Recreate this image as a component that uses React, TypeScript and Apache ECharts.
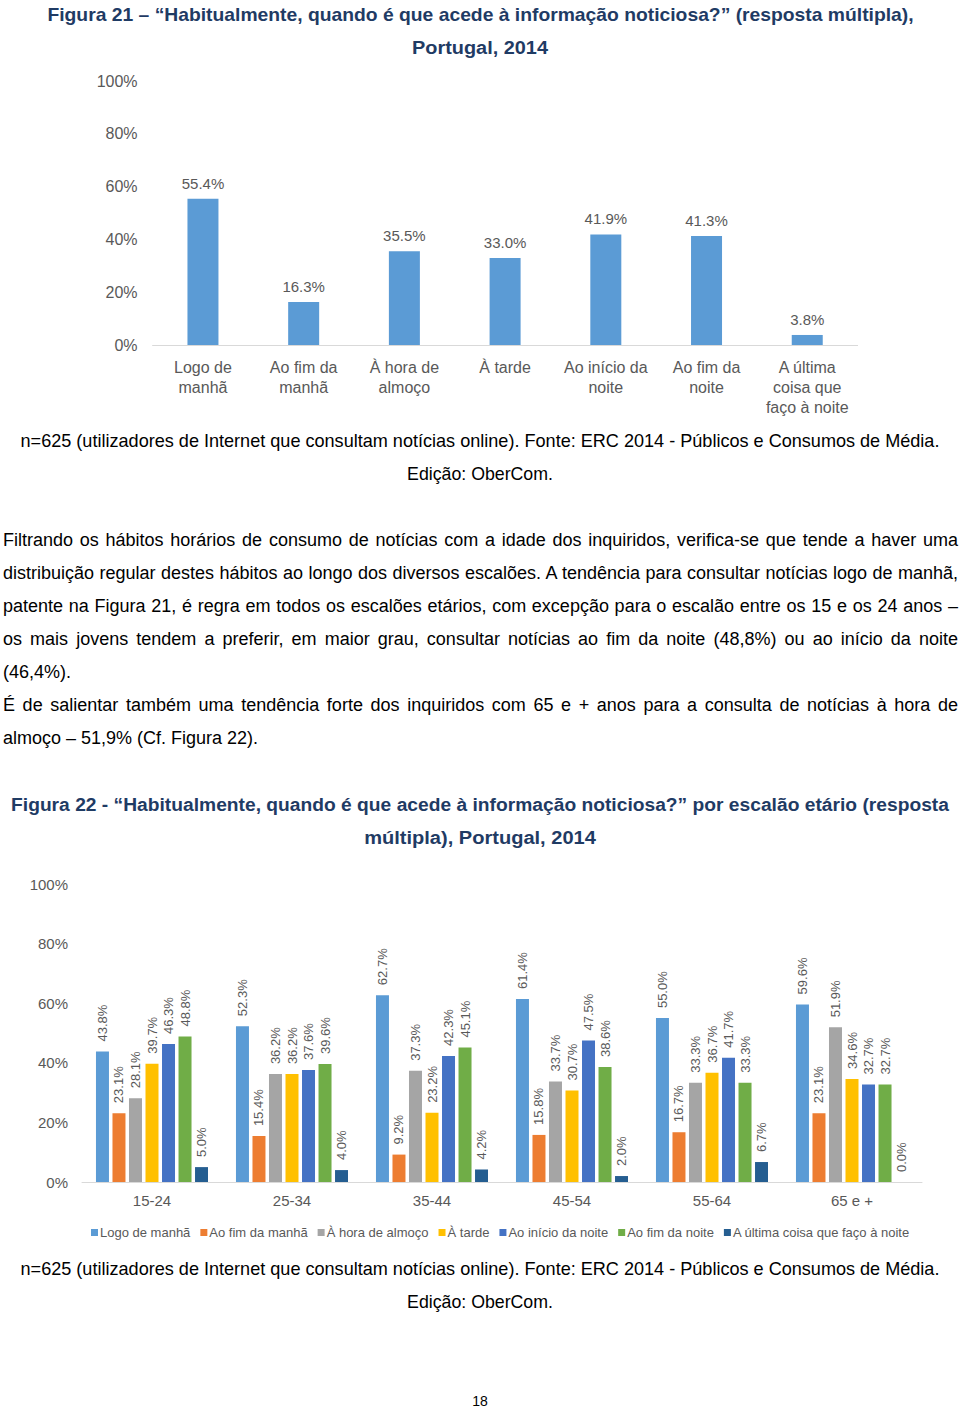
import React, { useEffect, useRef } from "react";
import * as echarts from "echarts";

// ---------- data ----------
const fig1Categories = [
  "Logo de\nmanhã",
  "Ao fim da\nmanhã",
  "À hora de\nalmoço",
  "À tarde",
  "Ao início da\nnoite",
  "Ao fim da\nnoite",
  "A última\ncoisa que\nfaço à noite",
];
const fig1Values = [55.4, 16.3, 35.5, 33.0, 41.9, 41.3, 3.8];

const fig2Groups = ["15-24", "25-34", "35-44", "45-54", "55-64", "65 e +"];
const seriesNames = [
  "Logo de manhã",
  "Ao fim da manhã",
  "À hora de almoço",
  "À tarde",
  "Ao início da noite",
  "Ao fim da noite",
  "A última coisa que faço à noite",
];
const logoDeManha = [43.8, 52.3, 62.7, 61.4, 55.0, 59.6];
const aoFimDaManha = [23.1, 15.4, 9.2, 15.8, 16.7, 23.1];
const horaDeAlmoco = [28.1, 36.2, 37.3, 33.7, 33.3, 51.9];
const aTarde = [39.7, 36.2, 23.2, 30.7, 36.7, 34.6];
const inicioDaNoite = [46.3, 37.6, 42.3, 47.5, 41.7, 32.7];
const fimDaNoite = [48.8, 39.6, 45.1, 38.6, 33.3, 32.7];
const ultimaCoisa = [5.0, 4.0, 4.2, 2.0, 6.7, 0.0];
const fig2Values = [logoDeManha, aoFimDaManha, horaDeAlmoco, aTarde, inicioDaNoite, fimDaNoite, ultimaCoisa];
const seriesColors = ["#5B9BD5", "#ED7D31", "#A5A5A5", "#FFC000", "#4472C4", "#70AD47", "#255E91"];

const yMin = 0;
const yMax = 100;
const yStep = 20;

const title1 = [
  "Figura 21 – “Habitualmente, quando é que acede à informação noticiosa?” (resposta múltipla),",
  "Portugal, 2014",
];
const title2 = [
  "Figura 22 - “Habitualmente, quando é que acede à informação noticiosa?” por escalão etário (resposta",
  "múltipla), Portugal, 2014",
];
const sourceNote = [
  "n=625 (utilizadores de Internet que consultam notícias online). Fonte: ERC 2014 - Públicos e Consumos de Média.",
  "Edição: OberCom.",
];
const paragraphLines = [
  { t: "Filtrando os hábitos horários de consumo de notícias com a idade dos inquiridos, verifica-se que tende a haver uma", j: true },
  { t: "distribuição regular destes hábitos ao longo dos diversos escalões. A tendência para consultar notícias logo de manhã,", j: true },
  { t: "patente na Figura 21, é regra em todos os escalões etários, com excepção para o escalão entre os 15 e os 24 anos –", j: true },
  { t: "os mais jovens tendem a preferir, em maior grau, consultar notícias ao fim da noite (48,8%) ou ao início da noite", j: true },
  { t: "(46,4%).", j: false },
  { t: "É de salientar também uma tendência forte dos inquiridos com 65 e + anos para a consulta de notícias à hora de", j: true },
  { t: "almoço – 51,9% (Cf. Figura 22).", j: false },
];
const pageNumber = "18";

// ---------- helpers ----------
const FONT = "'Liberation Sans', Arial, sans-serif";
const TITLE_COLOR = "#1F3B64";
const LABEL_COLOR = "#595959";

let measureCtx: CanvasRenderingContext2D | null = null;
function measure(text: string, font: string): number {
  if (!measureCtx) measureCtx = document.createElement("canvas").getContext("2d");
  if (!measureCtx) return text.length * 8;
  measureCtx.font = font;
  return measureCtx.measureText(text).width;
}

function fittedText(text: string, cx: number, cy: number, targetW: number, size: number, weight: string, color: string) {
  const w = measure(text, `${weight} ${size}px ${FONT}`);
  return {
    type: "text",
    x: cx,
    y: cy,
    scaleX: w > 0 ? targetW / w : 1,
    z: 10,
    style: {
      text,
      fill: color,
      fontSize: size,
      fontWeight: weight,
      fontFamily: FONT,
      textAlign: "center",
      textVerticalAlign: "middle",
    },
  };
}

const pct = (p: any) => `${Number(p.value).toFixed(1)}%`;

export default function App() {
  const ref = useRef<HTMLDivElement>(null);

  useEffect(() => {
    if (!ref.current) return;
    const chart = echarts.init(ref.current, undefined, { renderer: "svg" });

    const option: any = {
      animation: false,
      backgroundColor: "#ffffff",
      textStyle: { fontFamily: FONT },
      grid: [
        { left: 152.6, right: 102.4, top: 81, bottom: 1064, containLabel: false },
        { left: 82, right: 38, top: 884, bottom: 227, containLabel: false },
      ],
      xAxis: [
        {
          type: "category",
          gridIndex: 0,
          data: fig1Categories,
          axisLine: { lineStyle: { color: "#D9D9D9", width: 1 } },
          axisTick: { show: false },
          axisLabel: {
            color: LABEL_COLOR,
            fontSize: 16,
            lineHeight: 20,
            margin: 12,
            interval: 0,
            verticalAlign: "top",
          },
        },
        {
          type: "category",
          gridIndex: 1,
          data: fig2Groups,
          axisLine: { lineStyle: { color: "#D9D9D9", width: 1 } },
          axisTick: { show: false },
          axisLabel: { color: LABEL_COLOR, fontSize: 15, margin: 11, interval: 0 },
        },
      ],
      yAxis: [
        {
          type: "value",
          gridIndex: 0,
          min: yMin,
          max: yMax,
          interval: yStep,
          axisLine: { show: false },
          axisTick: { show: false },
          splitLine: { show: false },
          axisLabel: { formatter: "{value}%", color: LABEL_COLOR, fontSize: 16, margin: 15 },
        },
        {
          type: "value",
          gridIndex: 1,
          min: yMin,
          max: yMax,
          interval: yStep,
          axisLine: { show: false },
          axisTick: { show: false },
          splitLine: { show: false },
          axisLabel: { formatter: "{value}%", color: LABEL_COLOR, fontSize: 15, margin: 14 },
        },
      ],
      legend: {
        data: seriesNames,
        left: 86,
        top: 1221,
        icon: "rect",
        itemWidth: 7,
        itemHeight: 7,
        itemGap: 10,
        textStyle: { color: LABEL_COLOR, fontSize: 13, fontFamily: FONT, padding: [0, 0, 0, -3] },
      },
      series: [
        {
          name: "Figura 21",
          type: "bar",
          xAxisIndex: 0,
          yAxisIndex: 0,
          data: fig1Values,
          barWidth: 31,
          itemStyle: { color: "#5B9BD5" },
          label: { show: true, position: "top", distance: 8, color: LABEL_COLOR, fontSize: 15, formatter: pct },
        },
        ...seriesNames.map((name, i) => ({
          name,
          type: "bar",
          xAxisIndex: 1,
          yAxisIndex: 1,
          data: fig2Values[i],
          barWidth: 13,
          barGap: "27%",
          itemStyle: { color: seriesColors[i] },
          label: {
            show: true,
            position: "top",
            rotate: 90,
            align: "left",
            verticalAlign: "middle",
            distance: 10,
            color: LABEL_COLOR,
            fontSize: 13,
            formatter: pct,
          },
        })),
      ],
      graphic: [
        fittedText(title1[0], 480.5, 15, 867, 19, "bold", TITLE_COLOR),
        fittedText(title1[1], 480, 47, 136, 19, "bold", TITLE_COLOR),
        fittedText(sourceNote[0], 480, 441, 920, 18, "normal", "#000000"),
        fittedText(sourceNote[1], 480, 474, 146, 18, "normal", "#000000"),
        fittedText(title2[0], 480, 805, 938, 19, "bold", TITLE_COLOR),
        fittedText(title2[1], 480, 837, 232, 19, "bold", TITLE_COLOR),
        fittedText(sourceNote[0], 480, 1269, 920, 18, "normal", "#000000"),
        fittedText(sourceNote[1], 480, 1302, 146, 18, "normal", "#000000"),
        {
          type: "text",
          x: 480,
          y: 1401,
          z: 10,
          style: {
            text: pageNumber,
            fill: "#000000",
            fontSize: 14,
            fontFamily: FONT,
            textAlign: "center",
            textVerticalAlign: "middle",
          },
        },
      ],
    };

    chart.setOption(option);
    return () => chart.dispose();
  }, []);

  // paragraph: pick font size so every line fits in the width
  const PW = 955;
  let pSize = 18;
  const maxW = Math.max(...paragraphLines.map((l) => measure(l.t, `${pSize}px ${FONT}`)));
  if (maxW > PW - 4) pSize = (pSize * (PW - 4)) / maxW;

  return (
    <div style={{ position: "absolute", left: 0, top: 0, width: 960, height: 1409, background: "#fff" }}>
      <div ref={ref} style={{ position: "absolute", left: 0, top: 0, width: 960, height: 1409 }} />
      {paragraphLines.map((l, i) => (
        <div
          key={i}
          style={{
            position: "absolute",
            left: 3,
            top: 540 + i * 33 - 16.5,
            width: PW,
            height: 33,
            lineHeight: "33px",
            fontFamily: FONT,
            fontSize: pSize,
            color: "#000",
            textAlign: l.j ? "justify" : "left",
            textAlignLast: l.j ? "justify" : "left",
            whiteSpace: "nowrap",
          } as any}
        >
          {l.t}
        </div>
      ))}
    </div>
  );
}
